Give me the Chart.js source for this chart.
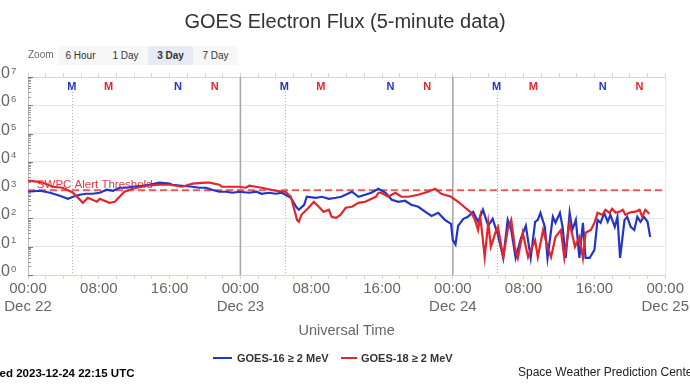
<!DOCTYPE html>
<html>
<head>
<meta charset="utf-8">
<script src="https://cdn.jsdelivr.net/npm/chart.js@4.4.1/dist/chart.umd.min.js"></script>
<style>
  html, body { margin: 0; padding: 0; background: #fff; }
  #wrap { position: relative; width: 690px; height: 388px; overflow: hidden; background: #fff;
          font-family: 'Liberation Sans', Arial, Helvetica, sans-serif; }
  #c { position: absolute; left: 0; top: 0; }
  .abs { position: absolute; white-space: nowrap; }
  #title { left: 0; width: 690px; top: 9px; text-align: center; font-size: 20px; line-height: 24px; color: #333; }
  #zoomlbl { left: 28px; top: 49px; font-size: 10px; line-height: 12px; color: #666; }
  .btn { top: 46px; width: 45px; height: 19px; line-height: 19px; text-align: center; font-size: 10px;
         color: #333; background: #f7f7f7; }
  .btn.sel { background: #e6ebf5; font-weight: bold; }
  .legline { height: 2px; top: 357px; }
  .legtxt { top: 351px; font-size: 11px; line-height: 14px; font-weight: bold; color: #333; }
  #updated { left: -33px; top: 366px; font-size: 11.5px; line-height: 14px; font-weight: bold; color: #000; }
  #credit { left: 518px; top: 365px; font-size: 12px; line-height: 14px; color: #222; }
</style>
</head>
<body>
<div id="wrap">
  <canvas id="c" width="690" height="388"></canvas>
  <div id="title" class="abs">GOES Electron Flux (5-minute data)</div>
  <div id="zoomlbl" class="abs">Zoom</div>
  <div class="abs btn" style="left:58px">6 Hour</div>
  <div class="abs btn" style="left:103px">1 Day</div>
  <div class="abs btn sel" style="left:148px">3 Day</div>
  <div class="abs btn" style="left:193px">7 Day</div>
  <div class="abs legline" id="leg16line" style="left:213px;width:19px"></div>
  <div class="abs legtxt" id="leg16txt" style="left:237px"></div>
  <div class="abs legline" id="leg18line" style="left:341px;width:16px"></div>
  <div class="abs legtxt" id="leg18txt" style="left:361px"></div>
  <div id="updated" class="abs">Updated 2023-12-24 22:15 UTC</div>
  <div id="credit" class="abs">Space Weather Prediction Center</div>
</div>
<script>
// ---------------- DATA ----------------
// time in hours since 2023-12-22 00:00 UTC
const g16Name = 'GOES-16 \u2265 2 MeV';
const g18Name = 'GOES-18 \u2265 2 MeV';
const g16Hours = [0,1.35,2.5,3.6,4.5,5.1,5.85,6.6,7.3,8.1,
  8.9,9.6,10.35,11.1,11.8,12.9,13.7,14.85,16.0,16.3,
  17.4,18.6,19.35,20.1,20.8,21.6,22.4,23.1,23.85,25.0,
  25.8,26.4,27.2,28.0,28.7,29.1,29.7,30.3,30.6,31.2,
  31.5,32.5,33.2,34.0,34.8,35.4,36.6,37.35,38.1,38.8,
  39.6,40.4,41.1,41.85,42.6,43.3,44.1,44.9,45.6,46.35,
  47.1,47.8,48.0,48.3,48.6,49.2,49.7,50.3,50.85,51.4,
  52.0,52.5,53.1,53.7,54.2,54.6,55.1,55.7,56.25,56.8,
  57.3,57.6,57.9,58.4,58.7,59.3,59.6,60.1,60.4,60.75,
  61.2,61.5,61.9,62.3,62.7,63.0,63.45,64.0,64.35,64.7,
  65.1,65.5,65.8,66.3,66.6,66.9,67.4,67.7,68.1,68.5,
  68.85,69.2,69.6,70.0,70.3];
const g16Flux = [878,952,809,633,495,583,687,745,745,809,
  1033,952,1217,1217,1320,1432,1554,1830,1690,1554,
  1432,1320,1217,1217,1033,878,878,809,878,809,
  878,745,809,745,809,687,537,258,202,304,
  583,537,583,495,537,583,878,583,687,809,
  1122,809,457,388,421,304,258,171,123,158,
  89,64,17,12,55,97,114,171,76,202,
  55,97,26,4,89,39,4,20,55,4,
  76,89,158,50,4,114,70,158,50,4,
  158,39,89,4,70,4,4,7.7,89,70,
  158,76,134,50,114,4,89,114,50,39,
  114,76,114,76,22];
const g18Hours = [0,1.0,1.7,2.8,3.9,4.4,5.1,6.2,6.75,7.8,
  8.1,9.2,9.8,10.35,10.9,11.8,12.9,13.4,14.85,16.0,
  17.4,18.6,20.1,20.5,21.6,21.9,23.1,23.85,24.6,25.0,
  26.4,28.0,29.1,29.7,30.0,30.4,30.6,30.9,31.7,32.3,
  32.85,33.4,34.0,34.3,34.8,35.3,35.9,36.6,37.35,38.1,
  39.3,39.6,39.9,40.7,41.5,42.2,43.0,44.1,45.2,46.0,
  46.7,47.8,48.6,49.4,50.1,50.5,50.85,51.1,51.4,51.6,
  52.0,52.3,52.8,53.1,53.7,54.2,54.6,55.0,55.35,55.9,
  56.5,56.8,57.3,57.6,58.2,58.7,59.1,59.6,60.2,60.6,
  61.2,61.8,62.3,62.7,63.0,63.6,64.0,64.35,64.9,65.25,
  65.7,66.0,66.4,66.8,67.2,67.5,67.95,68.3,68.6,69.1,
  69.4,69.75,70.2];
const g18Flux = [2154,1990,1830,1320,1217,1033,809,357,537,388,
  495,357,388,583,878,1122,1320,1432,1554,1554,
  1320,1690,1830,1830,1554,1320,1320,1320,1217,1432,
  1217,952,878,583,258,89,76,134,238,388,
  258,171,202,114,105,134,238,258,357,388,
  583,809,809,583,809,583,583,687,878,1122,
  745,583,388,238,158,89,39,114,17,4.3,
  70,10,31,50,4.3,39,89,10,4,31,
  4.3,7.7,17,4.3,39,10,4.3,22,39,4,
  70,10,22,4,31,39,70,158,134,202,
  158,219,158,171,202,134,158,171,171,202,
  114,202,146];
const thresholdValue = 1000;
const thresholdLabel = 'SWPC Alert Threshold';
const xMin = 0, xMax = 72;
const dayNames = ['Dec 22', 'Dec 23', 'Dec 24', 'Dec 25'];
const yDecades = [1, 10, 100, 1000, 10000, 100000, 1000000, 10000000];
const dayBoundaryHours = [24, 48];
const g16MidnightHours = [5, 29, 53];
// local midnight (M) / noon (N) markers for each satellite, hours since start
const g16MarkerHours = [4.95, 16.95, 28.95, 40.95, 52.95, 64.95];
const g18MarkerHours = [9.1, 21.1, 33.1, 45.1, 57.1, 69.1];
const markerTexts = ['M', 'N', 'M', 'N', 'M', 'N'];

// ---------------- STYLE ----------------
const BLUE = '#2235c8';
const RED = '#e2262c';
const FONT = "'Liberation Sans', Arial, Helvetica, sans-serif";

document.getElementById('leg16line').style.background = BLUE;
document.getElementById('leg18line').style.background = RED;
document.getElementById('leg16txt').textContent = g16Name;
document.getElementById('leg18txt').textContent = g18Name;

const toPts = (hs, vs) => hs.map((h, i) => ({x: h, y: vs[i]}));

const overlay = {
  id: 'overlay',
  beforeDatasetsDraw(chart) {
    const {ctx, chartArea: a, scales: {x, y}} = chart;
    ctx.save();
    // left axis minor ticks
    ctx.strokeStyle = '#9a9a9a';
    ctx.lineWidth = 1;
    for (let k = 0; k < 7; k++) {
      for (let m = 2; m <= 9; m++) {
        const py = Math.round(y.getPixelForValue(m * Math.pow(10, k))) + 0.5;
        ctx.beginPath(); ctx.moveTo(a.left, py); ctx.lineTo(a.left + 3, py); ctx.stroke();
      }
    }
    ctx.strokeStyle = '#777';
    yDecades.forEach(v => {
      const py = Math.round(y.getPixelForValue(v)) + 0.5;
      ctx.beginPath(); ctx.moveTo(a.left, py); ctx.lineTo(a.left + 5, py); ctx.stroke();
    });
    // right border
    ctx.strokeStyle = '#e3e3e3';
    ctx.beginPath(); ctx.moveTo(a.right + 0.5, a.top); ctx.lineTo(a.right + 0.5, a.bottom); ctx.stroke();
    // dotted local-midnight lines
    ctx.strokeStyle = '#b0b0b0';
    ctx.setLineDash([1, 2]);
    g16MidnightHours.forEach(h => {
      const px = Math.round(x.getPixelForValue(h)) + 0.5;
      ctx.beginPath(); ctx.moveTo(px, a.top + 15); ctx.lineTo(px, a.bottom); ctx.stroke();
    });
    ctx.setLineDash([]);
    // day boundary lines
    ctx.strokeStyle = '#a8a8a8';
    ctx.lineWidth = 1.6;
    dayBoundaryHours.forEach(h => {
      const px = x.getPixelForValue(h);
      ctx.beginPath(); ctx.moveTo(px, a.top); ctx.lineTo(px, a.bottom); ctx.stroke();
    });
    // threshold label
    ctx.fillStyle = '#e0393e';
    ctx.font = '11.5px ' + FONT;
    ctx.textAlign = 'left';
    ctx.textBaseline = 'alphabetic';
    ctx.fillText(thresholdLabel, x.getPixelForValue(1.0), y.getPixelForValue(thresholdValue) - 2.5);
    // M / N markers
    ctx.font = 'bold 11px ' + FONT;
    ctx.textAlign = 'center';
    ctx.textBaseline = 'middle';
    g16MarkerHours.forEach((h, i) => {
      ctx.fillStyle = BLUE;
      ctx.fillText(markerTexts[i], x.getPixelForValue(h), a.top + 9.5);
    });
    g18MarkerHours.forEach((h, i) => {
      ctx.fillStyle = RED;
      ctx.fillText(markerTexts[i], x.getPixelForValue(h), a.top + 9.5);
    });
    ctx.restore();
  },
  afterDraw(chart) {
    const {ctx, chartArea: a, scales: {y}} = chart;
    ctx.save();
    ctx.fillStyle = '#666';
    ctx.textBaseline = 'alphabetic';
    yDecades.forEach(v => {
      const py = y.getPixelForValue(v);
      const exp = Math.round(Math.log10(v));
      ctx.font = '16px ' + FONT;
      ctx.textAlign = 'right';
      ctx.fillText('10', 10, py + 1);
      ctx.font = '9.5px ' + FONT;
      ctx.textAlign = 'left';
      ctx.fillText(String(exp), 11, py - 3.5);
    });
    ctx.restore();
  }
};

new Chart(document.getElementById('c'), {
  type: 'line',
  data: {
    datasets: [
      { label: g16Name, data: toPts(g16Hours, g16Flux), borderColor: BLUE, borderWidth: 2.2,
        pointRadius: 0, tension: 0, fill: false, order: 2 },
      { label: g18Name, data: toPts(g18Hours, g18Flux), borderColor: RED, borderWidth: 2.2,
        pointRadius: 0, tension: 0, fill: false, order: 1 },
      { label: thresholdLabel, data: [{x: xMin, y: thresholdValue}, {x: xMax, y: thresholdValue}],
        borderColor: '#e35b5e', borderWidth: 2, borderDash: [7, 4], pointRadius: 0, fill: false, order: 3 }
    ]
  },
  options: {
    responsive: false,
    animation: false,
    events: [],
    layout: { padding: { top: 77, right: 22, left: 0, bottom: 40 } },
    plugins: { legend: { display: false }, title: { display: false }, tooltip: { enabled: false } },
    scales: {
      x: {
        type: 'linear', position: 'bottom', min: xMin, max: xMax,
        afterFit: s => { s.height = 73; },
        grid: { drawOnChartArea: false, drawTicks: true, tickLength: 4, color: '#ccd6eb' },
        border: { display: true, color: '#ccd6eb' },
        ticks: {
          stepSize: 2, autoSkip: false, maxRotation: 0, minRotation: 0, padding: 1,
          color: '#666', font: { family: FONT, size: 15, lineHeight: 1.2 },
          callback: v => {
            if (v % 8 !== 0) return '';
            const h = v % 24;
            const hh = (h < 10 ? '0' : '') + h + ':00';
            return h === 0 ? [hh, dayNames[v / 24]] : hh;
          }
        },
        title: { display: true, text: 'Universal Time', color: '#666',
                 font: { family: FONT, size: 14.5, lineHeight: 1.2 }, padding: { top: 0, bottom: 8 } }
      },
      x2: {
        type: 'linear', position: 'top', min: xMin, max: xMax,
        afterFit: s => { s.height = 0; },
        grid: { drawOnChartArea: false, drawTicks: true, tickLength: 4, color: '#ccd6eb' },
        border: { display: true, color: '#ccd6eb' },
        ticks: { display: false, stepSize: 2, autoSkip: false }
      },
      y: {
        type: 'logarithmic', position: 'left', min: 1, max: 10000000,
        afterFit: s => { s.width = 28; },
        afterBuildTicks: s => { s.ticks = yDecades.map(v => ({ value: v })); },
        grid: { color: '#e6e6e6', drawTicks: false },
        border: { display: true, color: '#c0c0c0' },
        ticks: { display: false }
      }
    }
  },
  plugins: [overlay]
});
</script>
</body>
</html>
